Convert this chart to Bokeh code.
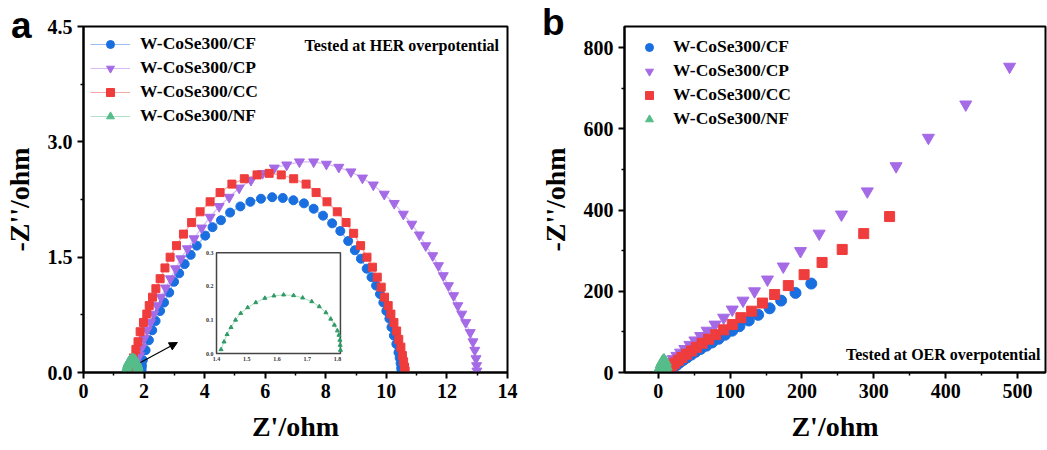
from bokeh.plotting import figure
from bokeh.layouts import row
from bokeh.models import (Range1d, FixedTicker, Legend, LegendItem, Label, Arrow,
                          NormalHead, PrintfTickFormatter, Div)
from bokeh.embed import file_html
from bokeh.resources import INLINE
from bokeh.core.properties import value

SERIF = "Liberation Serif"
SANS = "Liberation Sans"

names = ["W-CoSe300/CF", "W-CoSe300/CP", "W-CoSe300/CC", "W-CoSe300/NF"]
colors = ["#1a6fe0", "#a56ae6", "#ef3c3c", "#56bd8a"]
markers = ["circle", "inverted_triangle", "square", "triangle"]
panel_letters = ["a", "b"]

# ---------------- panel a : HER ----------------
her_cf_x = [1.90, 1.91, 1.92, 1.93, 1.96, 2.05, 2.16, 2.27, 2.38, 2.53, 2.66, 2.83, 2.99, 3.16, 3.34,
            3.54, 3.74, 4.02, 4.26, 4.54, 4.84, 5.18, 5.51, 5.86, 6.23, 6.58, 6.93, 7.28, 7.60, 7.91,
            8.21, 8.48, 8.74, 8.96, 9.16, 9.35, 9.51, 9.66, 9.79, 9.90, 10.00, 10.10, 10.17, 10.25,
            10.33, 10.40, 10.44, 10.47, 10.49, 10.50]
her_cf_y = [0.00, 0.02, 0.05, 0.09, 0.16, 0.29, 0.42, 0.55, 0.67, 0.80, 0.91, 1.04, 1.18, 1.29, 1.41,
            1.53, 1.65, 1.78, 1.89, 1.98, 2.08, 2.16, 2.22, 2.26, 2.28, 2.27, 2.24, 2.20, 2.13, 2.04,
            1.94, 1.84, 1.71, 1.59, 1.48, 1.35, 1.24, 1.13, 1.02, 0.91, 0.80, 0.70, 0.59, 0.48,
            0.37, 0.26, 0.19, 0.12, 0.06, 0.02]

her_cp_x = [1.72, 1.74, 1.77, 1.85, 1.93, 2.00, 2.10, 2.21, 2.32, 2.43, 2.56, 2.71, 2.87, 3.04, 3.21,
            3.43, 3.65, 3.90, 4.18, 4.48, 4.81, 5.14, 5.53, 5.91, 6.30, 6.71, 7.13, 7.60, 8.02, 8.43,
            8.83, 9.21, 9.57, 9.93, 10.26, 10.56, 10.84, 11.09, 11.30, 11.53, 11.72, 11.88, 12.05,
            12.22, 12.36, 12.49, 12.62, 12.77, 12.86, 12.92, 12.96, 12.98, 12.99]
her_cp_y = [0.00, 0.04, 0.11, 0.22, 0.33, 0.44, 0.55, 0.65, 0.76, 0.87, 0.98, 1.10, 1.22, 1.35, 1.48,
            1.61, 1.74, 1.88, 2.02, 2.16, 2.28, 2.40, 2.50, 2.59, 2.66, 2.70, 2.74, 2.74, 2.71, 2.67,
            2.61, 2.53, 2.44, 2.32, 2.20, 2.06, 1.93, 1.79, 1.65, 1.52, 1.39, 1.26, 1.13,
            1.00, 0.87, 0.76, 0.65, 0.52, 0.40, 0.29, 0.18, 0.09, 0.02]

her_cc_x = [1.48, 1.50, 1.53, 1.56, 1.60, 1.65, 1.73, 1.80, 1.87, 1.98, 2.09, 2.17, 2.28, 2.39, 2.53,
            2.69, 2.86, 3.07, 3.30, 3.57, 3.85, 4.18, 4.51, 4.90, 5.31, 5.73, 6.13, 6.53, 6.94, 7.35,
            7.68, 8.04, 8.38, 8.67, 8.92, 9.15, 9.36, 9.54, 9.70, 9.83, 9.94, 10.06, 10.15, 10.25,
            10.34, 10.41, 10.48, 10.53, 10.57, 10.60, 10.62]
her_cc_y = [0.00, 0.03, 0.06, 0.10, 0.14, 0.19, 0.30, 0.40, 0.53, 0.65, 0.76, 0.87, 0.98, 1.09, 1.22,
            1.36, 1.50, 1.65, 1.80, 1.95, 2.09, 2.22, 2.34, 2.45, 2.52, 2.57, 2.59, 2.57, 2.52, 2.45,
            2.34, 2.22, 2.09, 1.95, 1.81, 1.65, 1.50, 1.37, 1.24, 1.11, 0.98, 0.87, 0.76, 0.65,
            0.54, 0.43, 0.33, 0.22, 0.14, 0.07, 0.02]

her_nf_x = [1.415, 1.425, 1.435, 1.448, 1.463, 1.480, 1.503, 1.530, 1.560, 1.590, 1.622, 1.655, 1.685,
            1.715, 1.740, 1.762, 1.778, 1.790, 1.800, 1.805, 1.808, 1.809, 1.810]
her_nf_y = [0.012, 0.035, 0.057, 0.078, 0.100, 0.120, 0.137, 0.152, 0.165, 0.172, 0.175, 0.173, 0.166,
            0.155, 0.140, 0.122, 0.103, 0.085, 0.068, 0.055, 0.040, 0.025, 0.010]

a_xticks = [0, 2, 4, 6, 8, 10, 12, 14]
a_yticks = [0.0, 1.5, 3.0, 4.5]
inset_xticks = [1.4, 1.5, 1.6, 1.7, 1.8]
inset_yticks = [0.0, 0.1, 0.2, 0.3]

# ---------------- panel b : OER ----------------
oer_cf_x = [16, 19, 22, 26, 30, 35, 40, 46, 52, 59, 67, 75, 84, 93, 103, 113, 126, 139, 155, 171, 191, 213]
oer_cf_y = [4, 9, 14, 19, 25, 31, 37, 44, 51, 58, 66, 74, 83, 93, 103, 114, 128, 142, 158, 177, 196, 219]

oer_cp_x = [11, 14, 17, 21, 26, 31, 37, 44, 51, 59, 68, 79, 91, 103, 118, 134, 152, 174, 198, 224,
            255, 291, 331, 376, 428, 489]
oer_cp_y = [12, 19, 26, 33, 41, 49, 58, 68, 79, 90, 103, 118, 135, 155, 177, 200, 229, 261, 299, 342,
            389, 446, 508, 578, 660, 753]

oer_cc_x = [13, 16, 19, 23, 28, 33, 39, 46, 53, 61, 70, 80, 91, 103, 115, 130, 145, 162, 181, 203,
            228, 256, 286, 322]
oer_cc_y = [5, 11, 17, 23, 30, 37, 45, 53, 62, 72, 82, 93, 105, 118, 135, 151, 171, 192, 214, 241,
            271, 303, 342, 384]

oer_nf_x = [0, 2, 4, 6, 8, 10, 11, 12]
oer_nf_y = [0, 10, 20, 27, 30, 26, 16, 5]

b_xticks = [0, 100, 200, 300, 400, 500]
b_yticks = [0, 200, 400, 600, 800]


def style(p, xticks, yticks, xminor, yminor, yfmt):
    p.outline_line_color = "black"
    p.outline_line_width = 2
    p.outline_line_alpha = 1
    p.grid.visible = False
    p.background_fill_color = "white"
    p.border_fill_color = "white"
    p.xaxis.ticker = FixedTicker(ticks=xticks, minor_ticks=xminor)
    p.yaxis.ticker = FixedTicker(ticks=yticks, minor_ticks=yminor)
    if yfmt:
        p.yaxis.formatter = PrintfTickFormatter(format=yfmt)
    for ax in p.axis:
        ax.axis_line_width = 2
        ax.axis_line_color = "black"
        ax.major_tick_line_width = 2
        ax.major_tick_out = 6
        ax.major_tick_in = 0
        ax.minor_tick_line_width = 1.5
        ax.minor_tick_out = 3
        ax.minor_tick_in = 0
        ax.major_label_text_font = SERIF
        ax.major_label_text_font_style = "bold"
        ax.major_label_text_font_size = "20px"
        ax.major_label_text_color = "black"
        ax.major_label_standoff = 5
        ax.axis_label_text_font = SERIF
        ax.axis_label_text_font_style = "bold"
        ax.axis_label_text_font_size = "28px"
        ax.axis_label_text_color = "black"
        ax.axis_label_standoff = 10


# ---------- figure a ----------
pa = figure(width=530, height=450, output_backend="svg", toolbar_location=None,
            x_range=Range1d(0, 14), y_range=Range1d(0, 4.5),
            min_border_left=83, min_border_right=23, min_border_top=25, min_border_bottom=78,
            x_axis_label="Z'/ohm", y_axis_label="-Z''/ohm")
style(pa, a_xticks, a_yticks, [1, 3, 5, 7, 9, 11, 13], [0.75, 2.25, 3.75], "%.1f")

series_a = [(her_cf_x, her_cf_y), (her_cp_x, her_cp_y), (her_cc_x, her_cc_y), (her_nf_x, her_nf_y)]
sizes_a = [9, 10, 8, 10]
items_a = []
for (xs, ys), nm, c, mk, sz in zip(series_a, names, colors, markers, sizes_a):
    ln = pa.line(xs, ys, line_color=c, line_alpha=0.45, line_width=1.2)
    sc = pa.scatter(xs, ys, marker=mk, size=sz, fill_color=c, line_color=c)
    items_a.append(LegendItem(label=nm, renderers=[ln, sc]))

leg_a = Legend(items=items_a, location="top_left", border_line_color=None,
               background_fill_alpha=0, margin=7, padding=18, spacing=3,
               glyph_width=40, glyph_height=20, label_height=20, label_standoff=10,
               label_text_font=SERIF, label_text_font_style="bold",
               label_text_font_size="17.5px", label_text_color="black")
pa.add_layout(leg_a)

pa.add_layout(Label(x=13.72, y=4.25, text="Tested at HER overpotential", text_align="right",
                    text_baseline="middle", text_font=SERIF, text_font_style="bold",
                    text_font_size="16px", text_color="black"))

pa.add_layout(Arrow(end=NormalHead(size=8, fill_color="black", line_color="black"),
                    x_start=1.88, y_start=0.13, x_end=3.1, y_end=0.39,
                    line_color="black", line_width=1.2))

# inset placed through an extra pair of ranges
ins_l, ins_r, ins_b, ins_t = 0.3137, 0.606, 0.0548, 0.3458   # fractions of the frame
ix0, ix1, iy0, iy1 = 1.4, 1.81, 0.0, 0.3
sx = (ix1 - ix0) / (ins_r - ins_l)
sy = (iy1 - iy0) / (ins_t - ins_b)
pa.extra_x_ranges = {"inset": Range1d(ix0 - ins_l * sx, ix0 + (1 - ins_l) * sx)}
pa.extra_y_ranges = {"inset": Range1d(iy0 - ins_b * sy, iy0 + (1 - ins_b) * sy)}
pa.quad(left=[ix0], right=[ix1], bottom=[iy0], top=[iy1], fill_color="white",
        line_color="#444444", line_width=1.5, x_range_name="inset", y_range_name="inset")
pa.line(her_nf_x, her_nf_y, line_color=colors[3], line_alpha=0.5, line_width=1,
        x_range_name="inset", y_range_name="inset")
pa.scatter(her_nf_x, her_nf_y, marker="triangle", size=4, fill_color="#2e9a66", line_color="#2e9a66",
           x_range_name="inset", y_range_name="inset")
pa.text(x=inset_xticks, y=[iy0] * len(inset_xticks), text=[f"{v:.1f}" for v in inset_xticks],
        y_offset=3, text_align="center", text_baseline="top", text_font=value(SERIF),
        text_font_style="bold", text_font_size="6px", text_color="#333333",
        x_range_name="inset", y_range_name="inset")
pa.text(x=[ix0] * len(inset_yticks), y=inset_yticks, text=[f"{v:.1f}" for v in inset_yticks],
        x_offset=-3, text_align="right", text_baseline="middle", text_font=value(SERIF),
        text_font_style="bold", text_font_size="6px", text_color="#333333",
        x_range_name="inset", y_range_name="inset")

# ---------- figure b ----------
pb = figure(width=517, height=450, output_backend="svg", toolbar_location=None,
            x_range=Range1d(-47, 539), y_range=Range1d(0, 852),
            min_border_left=94, min_border_right=2, min_border_top=26, min_border_bottom=78,
            x_axis_label="Z'/ohm", y_axis_label="-Z''/ohm")
style(pb, b_xticks, b_yticks, [50, 150, 250, 350, 450], [100, 300, 500, 700], None)

series_b = [(oer_cf_x, oer_cf_y), (oer_cp_x, oer_cp_y), (oer_cc_x, oer_cc_y), (oer_nf_x, oer_nf_y)]
sizes_b = [11, 12, 10, 12]
items_b = []
for (xs, ys), nm, c, mk, sz in zip(series_b, names, colors, markers, sizes_b):
    sc = pb.scatter(xs, ys, marker=mk, size=sz, fill_color=c, line_color=c)
    items_b.append(LegendItem(label=nm, renderers=[sc]))

leg_b = Legend(items=items_b, location="top_left", border_line_color=None,
               background_fill_alpha=0, margin=10, padding=19, spacing=3,
               glyph_width=30, glyph_height=20, label_height=20, label_standoff=9,
               label_text_font=SERIF, label_text_font_style="bold",
               label_text_font_size="17.5px", label_text_color="black")
pb.add_layout(leg_b)

pb.add_layout(Label(x=532, y=44, text="Tested at OER overpotential", text_align="right",
                    text_baseline="middle", text_font=SERIF, text_font_style="bold",
                    text_font_size="16px", text_color="black"))


# panel letters: small absolutely positioned text boxes laid over the row
def letter_div(txt, left, top):
    return Div(text=txt, width=30, height=40,
               styles={"position": "absolute", "left": f"{left}px", "top": f"{top}px",
                       "font-family": SANS, "font-weight": "bold", "font-size": "37px",
                       "line-height": "37px", "color": "black", "z-index": "10",
                       "margin": "0px", "padding": "0px"})


div_a = letter_div(panel_letters[0], 11, 7)
div_b = letter_div(panel_letters[1], 542, 4)

layout = row(pa, pb, div_a, div_b, spacing=0)
open("out.html", "w").write(file_html(layout, INLINE))
